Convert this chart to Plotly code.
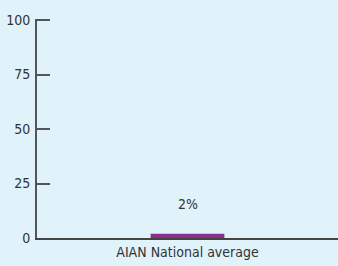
import plotly.graph_objects as go

categories = ["AIAN National average"]
values = [2]
value_labels = ["2%"]
y_ticks = [0, 25, 50, 75, 100]

FONT = "DejaVu Sans Condensed, Roboto Condensed, Liberation Sans Narrow, sans-serif"
BG = "#E0F2FA"

fig = go.Figure()
fig.add_trace(go.Bar(
    x=categories, y=values, width=0.245,
    marker=dict(color="#8B2D8F", line=dict(width=0)),
    hoverinfo="skip",
))
for c, v, t in zip(categories, values, value_labels):
    fig.add_annotation(x=c, y=v, text=t, showarrow=False, yanchor="bottom",
                       yshift=20, font=dict(family=FONT, size=14, color="#333333"))

fig.update_layout(
    width=338, height=266,
    margin=dict(l=37, r=0, t=19, b=28),
    paper_bgcolor=BG, plot_bgcolor=BG,
    showlegend=False,
    font=dict(family=FONT, size=14, color="#333333"),
    xaxis=dict(showline=True, linecolor="#444444", linewidth=2, ticks="",
               showgrid=False, zeroline=False, tickfont=dict(size=14)),
    yaxis=dict(range=[0, 100.5], tickvals=y_ticks, showline=True, linecolor="#555555",
               linewidth=2, ticks="inside", ticklen=13, tickwidth=2, tickcolor="#555555",
               showgrid=False, zeroline=False, ticklabelstandoff=2),
)
fig.write_html("out.html", config={"displayModeBar": False},
               post_script="document.body.style.margin='0';document.body.style.background='%s';" % BG)
